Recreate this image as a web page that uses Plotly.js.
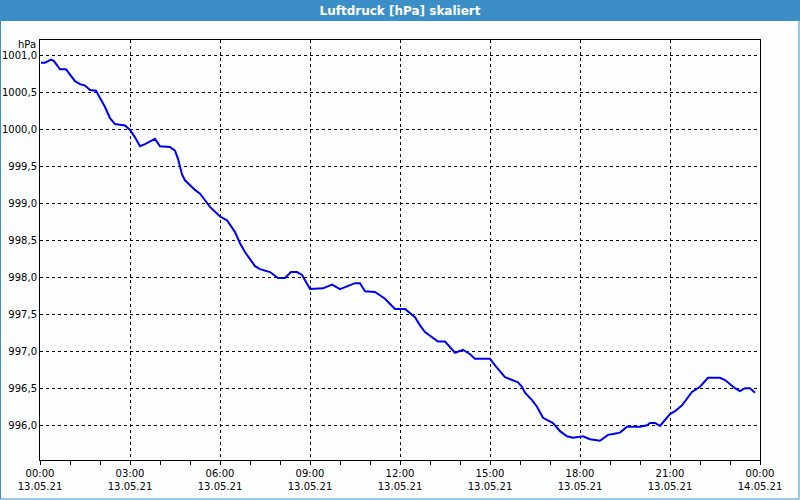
<!DOCTYPE html>
<html>
<head>
<meta charset="utf-8">
<script src="https://cdn.plot.ly/plotly-3.0.1.min.js"></script>
<style>
html,body{margin:0;padding:0;background:#fcfefd;}
#chart{width:800px;height:500px;}
</style>
</head>
<body>
<div id="chart"></div>
<script>
// Time of each reading (13.05.2021)
const times = [
 "00:02","00:10","00:22","00:28","00:40","00:52","01:10","01:20","01:30","01:40","01:52",
 "02:00","02:10","02:20","02:30","02:50","03:00","03:10","03:20","03:30","03:40","03:50",
 "04:00","04:20","04:30","04:36","04:44","04:50","05:10","05:20","05:30","05:40","06:00",
 "06:14","06:30","06:40","06:50","07:10","07:20","07:40","07:56","08:10","08:22","08:34",
 "08:44","09:00","09:26","09:44","10:00","10:30","10:40","10:50","11:10","11:30","11:50",
 "12:10","12:30","12:40","12:50","13:00","13:16","13:30","13:50","14:06","14:20","14:30",
 "15:00","15:10","15:30","15:56","16:04","16:10","16:24","16:34","16:46","17:06","17:20",
 "17:34","17:46","18:06","18:20","18:40","18:56","19:06","19:20","19:34","20:00","20:14",
 "20:20","20:30","20:40","21:00","21:10","21:24","21:44","22:00","22:16","22:40","22:50",
 "23:10","23:20","23:30","23:40","23:50"
];
// Air pressure in hPa
const pressure = [
 1000.91,1000.91,1000.95,1000.93,1000.82,1000.82,1000.66,1000.62,1000.60,1000.54,1000.53,
 1000.43,1000.31,1000.16,1000.08,1000.06,1000.00,999.90,999.78,999.81,999.84,999.88,
 999.78,999.77,999.72,999.61,999.40,999.32,999.19,999.14,999.05,998.96,998.83,
 998.78,998.62,998.47,998.35,998.16,998.12,998.08,998.00,998.00,998.08,998.08,
 998.04,997.85,997.86,997.91,997.85,997.93,997.93,997.82,997.81,997.72,997.58,
 997.58,997.47,997.36,997.27,997.22,997.14,997.14,996.99,997.03,996.97,996.91,
 996.91,996.82,996.66,996.59,996.53,996.45,996.35,996.26,996.11,996.04,995.93,
 995.86,995.84,995.86,995.82,995.80,995.88,995.89,995.91,995.99,995.99,996.01,
 996.04,996.04,996.00,996.16,996.20,996.28,996.46,996.53,996.65,996.65,996.62,
 996.51,996.47,996.51,996.51,996.45
];
// Axis ticks
const xTickVals = ["2021-05-13 00:00","2021-05-13 03:00","2021-05-13 06:00","2021-05-13 09:00",
 "2021-05-13 12:00","2021-05-13 15:00","2021-05-13 18:00","2021-05-13 21:00","2021-05-14 00:00"];
const xTickText = ["00:00<br>13.05.21","03:00<br>13.05.21","06:00<br>13.05.21","09:00<br>13.05.21",
 "12:00<br>13.05.21","15:00<br>13.05.21","18:00<br>13.05.21","21:00<br>13.05.21","00:00<br>14.05.21"];
const yTickVals = [996.0,996.5,997.0,997.5,998.0,998.5,999.0,999.5,1000.0,1000.5,1001.0];
const yTickText = ["996,0","996,5","997,0","997,5","998,0","998,5","999,0","999,5","1000,0","1000,5","1001,0"];

const chartTitle = "Luftdruck [hPa] skaliert";
const unitLabel = "hPa";

const x = times.map(t => "2021-05-13 " + t);

const blue = "#3c8fc6";
const W = 720, H = 420, L = 40, T = 40;
const px = v => (v - L) / W;
const py = v => (T + H - v) / H;

const trace = {
  x: x, y: pressure, type: "scatter", mode: "lines",
  line: {color: "#0000f0", width: 2},
  hoverinfo: "skip"
};

const tickFont = {family: "DejaVu Sans, Verdana, sans-serif", size: 10, color: "#000"};

const layout = {
  width: 800, height: 500,
  margin: {l: 40, r: 40, t: 40, b: 40, pad: 0},
  paper_bgcolor: "#fcfefd",
  plot_bgcolor: "#fcfefd",
  showlegend: false,
  title: {
    text: "<b>" + chartTitle + "</b>",
    font: {family: "DejaVu Sans, Verdana, sans-serif", size: 12, color: "#ffffff"},
    x: 0.5, xanchor: "center", y: 1 - 10.5/500, yanchor: "middle", yref: "container"
  },
  xaxis: {
    type: "date",
    range: ["2021-05-13 00:00", "2021-05-14 00:00"],
    tickmode: "array", tickvals: xTickVals, ticktext: xTickText,
    tickfont: tickFont, tickangle: 0,
    ticks: "outside", ticklen: 4, tickcolor: "#000", tickwidth: 1,
    minor: {dtick: 3600000, ticks: "outside", ticklen: 4, tickcolor: "#000", showgrid: false},
    showgrid: true, gridcolor: "#000", gridwidth: 1, griddash: "3px,3px",
    showline: true, linecolor: "#000", linewidth: 1, mirror: true,
    zeroline: false, fixedrange: true
  },
  yaxis: {
    range: [995.54, 1001.216],
    tickmode: "array", tickvals: yTickVals, ticktext: yTickText,
    tickfont: tickFont,
    ticks: "", ticklen: 0,
    showgrid: true, gridcolor: "#000", gridwidth: 1, griddash: "3px,3px",
    showline: true, linecolor: "#000", linewidth: 1, mirror: true,
    zeroline: false, fixedrange: true
  },
  shapes: [
    {type: "rect", xref: "paper", yref: "paper", layer: "below",
     x0: px(0), x1: px(800), y0: py(21), y1: py(0),
     fillcolor: blue, line: {width: 0}},
    {type: "rect", xref: "paper", yref: "paper", layer: "above",
     x0: px(0.5), x1: px(799), y0: py(499), y1: py(0.5),
     fillcolor: "rgba(0,0,0,0)", line: {color: blue, width: 1}}
  ],
  annotations: [
    {text: unitLabel, xref: "paper", yref: "paper", x: px(38), y: py(45),
     xanchor: "right", yanchor: "middle", showarrow: false, font: tickFont}
  ]
};

Plotly.newPlot("chart", [trace], layout, {staticPlot: true, displayModeBar: false});
</script>
</body>
</html>
